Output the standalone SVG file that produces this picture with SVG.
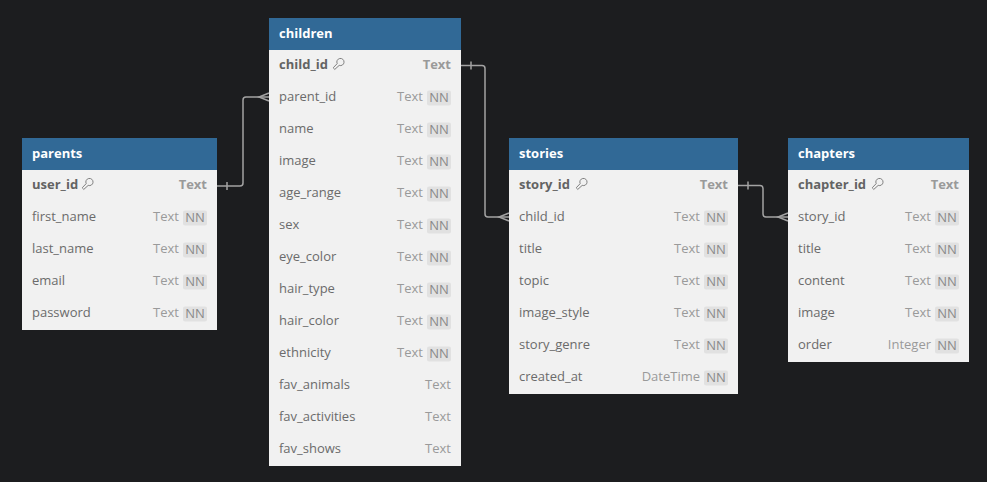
<svg xmlns="http://www.w3.org/2000/svg" width="987" height="482" viewBox="0 0 987 482">
<defs>
<style>
.bg{fill:#1c1d1f}
.hd{fill:#316996}
.bd{fill:#f1f1f1}
.ht{font-family:"Open Sans","Liberation Sans",sans-serif;font-size:13px;font-weight:bold;fill:#ffffff}
.fn{font-family:"Open Sans","Liberation Sans",sans-serif;font-size:13px;fill:#6b6b6b}
.pk{font-family:"Open Sans","Liberation Sans",sans-serif;font-size:13px;font-weight:bold;fill:#636363}
.ty{font-family:"Open Sans","Liberation Sans",sans-serif;font-size:13px;fill:#9a9a9a;text-anchor:end}
.tyb{font-family:"Open Sans","Liberation Sans",sans-serif;font-size:13px;font-weight:bold;fill:#9a9a9a;text-anchor:end}
.nnb{fill:#e1e1e1}
.nn{font-family:"Open Sans","Liberation Sans",sans-serif;font-size:13px;fill:#8a8a8a;text-anchor:middle}
.key{fill:none;stroke:#808080;stroke-width:1;stroke-linejoin:round}
.ln{fill:none;stroke:#a3a3a3;stroke-width:1.5}
</style>
<g id="keyicon">
<path class="key" d="M-0.8,0.6 A3.6,3.6 0 1 1 1.2,2.4 L-3.2,6.4 L-4.8,4.8 Z"/>
</g>
</defs>
<rect class="bg" x="0" y="0" width="987" height="482"/>

<g id="connectors">
<path class="ln" d="M217,186 H240 Q243,186 243,183 V100 Q243,97 246,97 H269"/>
<path class="ln" d="M227,182 V190"/>
<path class="ln" d="M269,93 L259,97 L269,101"/>
<path class="ln" d="M461,65.5 H482 Q485,65.5 485,68.5 V214 Q485,217 488,217 H509"/>
<path class="ln" d="M471,61.5 V69.5"/>
<path class="ln" d="M509,213 L499,217 L509,221"/>
<path class="ln" d="M738,185.5 H760 Q763,185.5 763,188.5 V214 Q763,217 766,217 H788"/>
<path class="ln" d="M748,181.5 V189.5"/>
<path class="ln" d="M788,213 L778,217 L788,221"/>
</g>

<g id="parents">
<rect class="bd" x="22" y="138" width="195" height="192"/>
<rect class="hd" x="22" y="138" width="195" height="32"/>
<text class="ht" x="32" y="158">parents</text>
<text class="pk" x="32" y="189">user_id</text><use href="#keyicon" x="87" y="183"/><text class="tyb" x="207" y="189">Text</text>
<text class="fn" x="32" y="221">first_name</text><text class="ty" x="179" y="221">Text</text><rect class="nnb" x="183" y="210.5" width="24" height="15" rx="2"/><text class="nn" x="195" y="222">NN</text>
<text class="fn" x="32" y="253">last_name</text><text class="ty" x="179" y="253">Text</text><rect class="nnb" x="183" y="242.5" width="24" height="15" rx="2"/><text class="nn" x="195" y="254">NN</text>
<text class="fn" x="32" y="285">email</text><text class="ty" x="179" y="285">Text</text><rect class="nnb" x="183" y="274.5" width="24" height="15" rx="2"/><text class="nn" x="195" y="286">NN</text>
<text class="fn" x="32" y="317">password</text><text class="ty" x="179" y="317">Text</text><rect class="nnb" x="183" y="306.5" width="24" height="15" rx="2"/><text class="nn" x="195" y="318">NN</text>
</g>

<g id="children">
<rect class="bd" x="269" y="18" width="192" height="448"/>
<rect class="hd" x="269" y="18" width="192" height="32"/>
<text class="ht" x="279" y="38">children</text>
<text class="pk" x="279" y="69">child_id</text><use href="#keyicon" x="338" y="63"/><text class="tyb" x="451" y="69">Text</text>
<text class="fn" x="279" y="101">parent_id</text><text class="ty" x="423" y="101">Text</text><rect class="nnb" x="427" y="90.5" width="24" height="15" rx="2"/><text class="nn" x="439" y="102">NN</text>
<text class="fn" x="279" y="133">name</text><text class="ty" x="423" y="133">Text</text><rect class="nnb" x="427" y="122.5" width="24" height="15" rx="2"/><text class="nn" x="439" y="134">NN</text>
<text class="fn" x="279" y="165">image</text><text class="ty" x="423" y="165">Text</text><rect class="nnb" x="427" y="154.5" width="24" height="15" rx="2"/><text class="nn" x="439" y="166">NN</text>
<text class="fn" x="279" y="197">age_range</text><text class="ty" x="423" y="197">Text</text><rect class="nnb" x="427" y="186.5" width="24" height="15" rx="2"/><text class="nn" x="439" y="198">NN</text>
<text class="fn" x="279" y="229">sex</text><text class="ty" x="423" y="229">Text</text><rect class="nnb" x="427" y="218.5" width="24" height="15" rx="2"/><text class="nn" x="439" y="230">NN</text>
<text class="fn" x="279" y="261">eye_color</text><text class="ty" x="423" y="261">Text</text><rect class="nnb" x="427" y="250.5" width="24" height="15" rx="2"/><text class="nn" x="439" y="262">NN</text>
<text class="fn" x="279" y="293">hair_type</text><text class="ty" x="423" y="293">Text</text><rect class="nnb" x="427" y="282.5" width="24" height="15" rx="2"/><text class="nn" x="439" y="294">NN</text>
<text class="fn" x="279" y="325">hair_color</text><text class="ty" x="423" y="325">Text</text><rect class="nnb" x="427" y="314.5" width="24" height="15" rx="2"/><text class="nn" x="439" y="326">NN</text>
<text class="fn" x="279" y="357">ethnicity</text><text class="ty" x="423" y="357">Text</text><rect class="nnb" x="427" y="346.5" width="24" height="15" rx="2"/><text class="nn" x="439" y="358">NN</text>
<text class="fn" x="279" y="389">fav_animals</text><text class="ty" x="451" y="389">Text</text>
<text class="fn" x="279" y="421">fav_activities</text><text class="ty" x="451" y="421">Text</text>
<text class="fn" x="279" y="453">fav_shows</text><text class="ty" x="451" y="453">Text</text>
</g>

<g id="stories">
<rect class="bd" x="509" y="138" width="229" height="256"/>
<rect class="hd" x="509" y="138" width="229" height="32"/>
<text class="ht" x="519" y="158">stories</text>
<text class="pk" x="519" y="189">story_id</text><use href="#keyicon" x="581" y="183"/><text class="tyb" x="728" y="189">Text</text>
<text class="fn" x="519" y="221">child_id</text><text class="ty" x="700" y="221">Text</text><rect class="nnb" x="704" y="210.5" width="24" height="15" rx="2"/><text class="nn" x="716" y="222">NN</text>
<text class="fn" x="519" y="253">title</text><text class="ty" x="700" y="253">Text</text><rect class="nnb" x="704" y="242.5" width="24" height="15" rx="2"/><text class="nn" x="716" y="254">NN</text>
<text class="fn" x="519" y="285">topic</text><text class="ty" x="700" y="285">Text</text><rect class="nnb" x="704" y="274.5" width="24" height="15" rx="2"/><text class="nn" x="716" y="286">NN</text>
<text class="fn" x="519" y="317">image_style</text><text class="ty" x="700" y="317">Text</text><rect class="nnb" x="704" y="306.5" width="24" height="15" rx="2"/><text class="nn" x="716" y="318">NN</text>
<text class="fn" x="519" y="349">story_genre</text><text class="ty" x="700" y="349">Text</text><rect class="nnb" x="704" y="338.5" width="24" height="15" rx="2"/><text class="nn" x="716" y="350">NN</text>
<text class="fn" x="519" y="381">created_at</text><text class="ty" x="700" y="381">DateTime</text><rect class="nnb" x="704" y="370.5" width="24" height="15" rx="2"/><text class="nn" x="716" y="382">NN</text>
</g>

<g id="chapters">
<rect class="bd" x="788" y="138" width="181" height="224"/>
<rect class="hd" x="788" y="138" width="181" height="32"/>
<text class="ht" x="798" y="158">chapters</text>
<text class="pk" x="798" y="189">chapter_id</text><use href="#keyicon" x="877" y="183"/><text class="tyb" x="959" y="189">Text</text>
<text class="fn" x="798" y="221">story_id</text><text class="ty" x="931" y="221">Text</text><rect class="nnb" x="935" y="210.5" width="24" height="15" rx="2"/><text class="nn" x="947" y="222">NN</text>
<text class="fn" x="798" y="253">title</text><text class="ty" x="931" y="253">Text</text><rect class="nnb" x="935" y="242.5" width="24" height="15" rx="2"/><text class="nn" x="947" y="254">NN</text>
<text class="fn" x="798" y="285">content</text><text class="ty" x="931" y="285">Text</text><rect class="nnb" x="935" y="274.5" width="24" height="15" rx="2"/><text class="nn" x="947" y="286">NN</text>
<text class="fn" x="798" y="317">image</text><text class="ty" x="931" y="317">Text</text><rect class="nnb" x="935" y="306.5" width="24" height="15" rx="2"/><text class="nn" x="947" y="318">NN</text>
<text class="fn" x="798" y="349">order</text><text class="ty" x="931" y="349">Integer</text><rect class="nnb" x="935" y="338.5" width="24" height="15" rx="2"/><text class="nn" x="947" y="350">NN</text>
</g>
</svg>
